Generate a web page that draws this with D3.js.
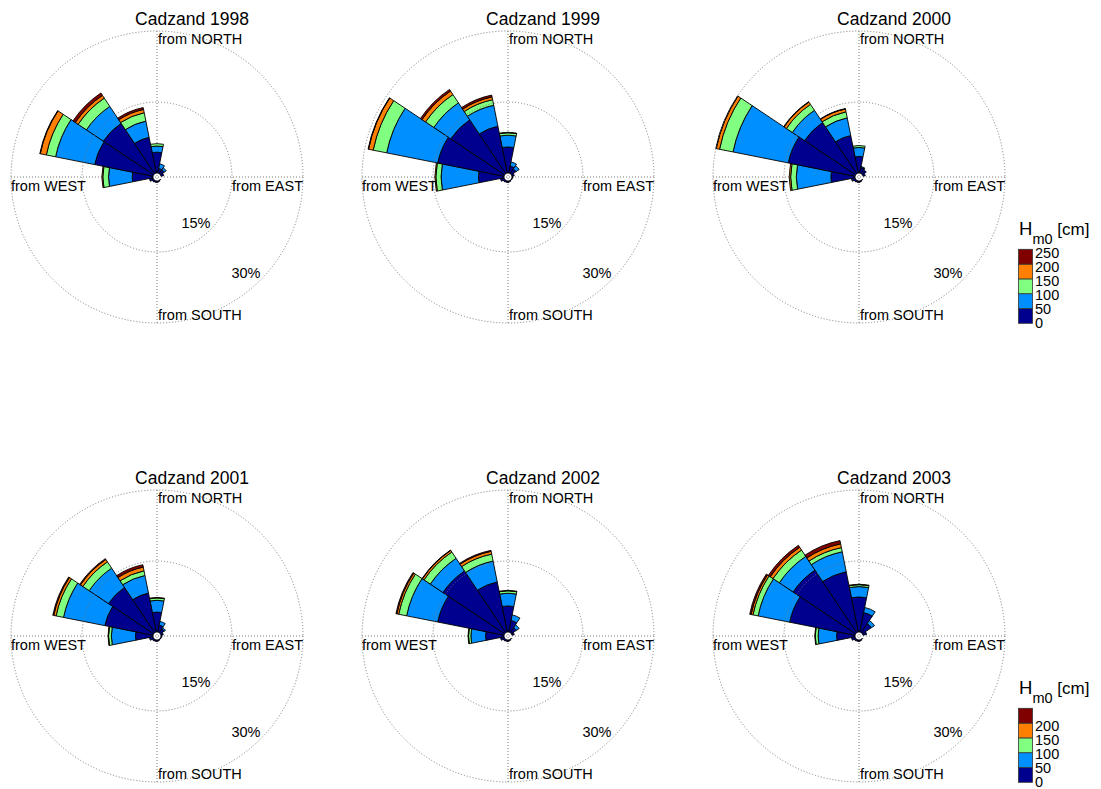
<!DOCTYPE html>
<html><head><meta charset="utf-8">
<script src="https://cdn.jsdelivr.net/npm/d3@7"></script>
<style>
body{margin:0;background:#fff}
svg{display:block}
text{font-family:"Liberation Sans",Arial,Helvetica,sans-serif;fill:#000}
</style>
</head><body>
<svg id="chart" width="1101" height="789"></svg>
<script>
// ---------- data ----------
const directions = ["N","NNE","NE","ENE","E","ESE","SE","SSE","S","SSW","SW","WSW","W","WNW","NW","NNW"];
const bearings   = [0,22.5,45,67.5,90,112.5,135,157.5,180,202.5,225,247.5,270,292.5,315,337.5];
const binLabels  = ["0-50","50-100","100-150","150-200","200-250"];
const binColors  = ["#00008f","#008fff","#80ff80","#ff8000","#800000"];
const years      = ["1998","1999","2000","2001","2002","2003"];
const ringTicks  = [15, 30];
const legendTicksTop    = [0,50,100,150,200,250];
const legendTicksBottom = [0,50,100,150,200];

// frequency [%] per direction (rows follow `directions`), per Hm0 bin (columns follow `binLabels`)
const freq1998 = [
  [4.4,1.3,0.5,0,0],[1.0,1.0,0,0,0],[1.0,0.5,0,0,0],[0.6,0,0,0,0],[0,0,0,0,0],[0,0,0,0,0],
  [0.1,0,0,0,0],[0.2,0,0,0,0],[0.3,0,0,0,0],[0.3,0,0,0,0],[0.4,0,0,0,0],[0.8,0,0,0,0],
  [4.4,5.0,1.2,0.2,0],[12.6,8.4,2.0,1.3,0.1],[12.8,4.3,2.1,0.7,0.6],[7.7,3.5,1.8,0.7,0.4]];
const freq1999 = [
  [5.5,2.5,0.5,0.1,0],[1.5,0.9,0,0,0],[1.2,0.8,0,0,0],[0.5,0,0,0,0],[0.2,0,0,0,0],[0.1,0,0,0,0],
  [0.1,0,0,0,0],[0.2,0,0,0,0],[0.3,0,0,0,0],[0.3,0,0,0,0],[0.4,0,0,0,0],[0.8,0,0,0,0],
  [5.4,7.9,1.1,0.2,0],[14.3,11.0,2.9,1.0,0.1],[13.7,4.3,2.1,0.9,0.4],[10.1,4.5,1.2,0.6,0.4]];
const freq2000 = [
  [3.5,1.9,0.4,0,0],[1.2,0.2,0,0,0],[1.0,0,0,0,0],[0.5,0,0,0,0],[0,0,0,0,0],[0,0,0,0,0],
  [0.1,0,0,0,0],[0.2,0,0,0,0],[0.3,0,0,0,0],[0.3,0,0,0,0],[0.4,0,0,0,0],[0.8,0,0,0,0],
  [5.1,7.3,1.2,0.3,0],[14.4,11.9,2.9,0.7,0.1],[13.0,3.1,1.5,0.6,0.1],[8.1,3.8,1.3,0.6,0.1]];
const freq2001 = [
  [4.2,2.5,0.5,0.1,0],[1.5,0.8,0,0,0],[1.0,0.3,0,0,0],[0.5,0,0,0,0],[0.2,0,0,0,0],[0.1,0,0,0,0],
  [0.1,0,0,0,0],[0.2,0,0,0,0],[0.3,0,0,0,0],[0.3,0,0,0,0],[0.4,0,0,0,0],[0.8,0,0,0,0],
  [3.7,5.1,0.6,0.1,0],[10.4,8.9,1.6,0.5,0.2],[11.5,4.9,1.6,0.6,0.2],[8.4,3.8,1.0,0.8,0.5]];
const freq2002 = [
  [5.5,2.7,0.5,0.1,0],[2.5,1.2,0,0,0],[1.3,0.7,0,0,0],[0.5,0,0,0,0],[0,0,0,0,0],[0,0,0,0,0],
  [0.1,0,0,0,0],[0.2,0,0,0,0],[0.3,0,0,0,0],[0.3,0,0,0,0],[0.4,0,0,0,0],[0.8,0,0,0,0],
  [3.9,3.1,0.5,0.1,0],[14.3,6.7,1.7,0.4,0.2],[15.7,3.2,1.6,0.4,0.1],[10.8,4.5,1.5,0.6,0.2]];
const freq2003 = [
  [7.4,2.2,0.4,0.1,0],[4.2,1.1,0,0,0],[2.3,0.8,0,0,0],[0.8,0,0,0,0],[0,0,0,0,0],[0,0,0,0,0],
  [0.1,0,0,0,0],[0.2,0,0,0,0],[0.3,0,0,0,0],[0.3,0,0,0,0],[0.4,0,0,0,0],[0.8,0,0,0,0],
  [3.9,3.9,0.6,0.1,0],[14.1,6.8,1.1,0.4,0.3],[15.9,3.5,1.6,0.7,0.5],[13.0,4.3,0.9,0.8,0.7]];
const freqByYear = [freq1998,freq1999,freq2000,freq2001,freq2002,freq2003];

// ---------- layout ----------
const svg = d3.select("#chart");
const colX = [157, 508, 859];
const rowY = [177, 636];
const r = d3.scaleLinear().domain([0, 30]).range([4, 146]);
const halfWidth = 11.25 * Math.PI / 180;
const arc = d3.arc();
const toRad = d => d * Math.PI / 180;

years.forEach((yr, i) => {
  const cx = colX[i % 3], cy = rowY[Math.floor(i / 3)];
  const g = svg.append("g").attr("transform", `translate(${cx},${cy})`);
  const R = r(30);

  // axis cross lines (below bars)
  const axes = g.append("g").attr("stroke", "#7a7a7a").attr("stroke-width", 1)
    .attr("stroke-dasharray", "1,2").attr("fill", "none");
  axes.append("line").attr("x1", -R).attr("x2", R).attr("y1", 0).attr("y2", 0);
  axes.append("line").attr("x1", 0).attr("x2", 0).attr("y1", -R).attr("y2", R);

  // bars
  const freq = freqByYear[i];
  const segs = [];
  freq.forEach((vals, di) => {
    let cum = 0;
    vals.forEach((v, bi) => {
      if (v > 0) {
        segs.push({dir: directions[di], bearing: bearings[di], bin: bi, lo: cum, hi: cum + v});
      }
      cum += v;
    });
  });
  g.append("g").selectAll("path").data(segs).join("path")
    .attr("d", d => arc({
      innerRadius: r(d.lo), outerRadius: r(d.hi),
      startAngle: toRad(d.bearing) - halfWidth, endAngle: toRad(d.bearing) + halfWidth }))
    .attr("fill", d => binColors[d.bin])
    .attr("stroke", "#000").attr("stroke-width", 0.9).attr("stroke-linejoin", "round");

  // rings (above bars)
  g.append("g").selectAll("circle").data(ringTicks).join("circle")
    .attr("r", d => r(d)).attr("fill", "none").attr("stroke", "#7a7a7a")
    .attr("stroke-width", 1).attr("stroke-dasharray", "1,2");

  // ring labels
  g.append("text").attr("x", 39).attr("y", 51).attr("text-anchor", "middle")
    .attr("font-size", 14.5).text(ringTicks[0] + "%");
  g.append("text").attr("x", 89).attr("y", 101).attr("text-anchor", "middle")
    .attr("font-size", 14.5).text(ringTicks[1] + "%");

  // direction labels
  g.append("text").attr("x", 1).attr("y", -133).attr("font-size", 14.5).text("from NORTH");
  g.append("text").attr("x", 1).attr("y", 143).attr("font-size", 14.5).text("from SOUTH");
  g.append("text").attr("x", -R).attr("y", 14).attr("font-size", 14.5).text("from WEST");
  g.append("text").attr("x", R).attr("y", 14).attr("text-anchor", "end").attr("font-size", 14.5).text("from EAST");

  // title
  g.append("text").attr("x", 35).attr("y", -152).attr("text-anchor", "middle")
    .attr("font-size", 17.5).text("Cadzand " + yr);
});

// ---------- legends ----------
function legend(offsetY, ticks) {
  const lg = svg.append("g").attr("transform", `translate(0,${offsetY})`);
  const yb = d3.scaleLinear().domain([0, 250]).range([323.3, 249.3]);
  const yl = d3.scaleLinear().domain([0, 250]).range([323.5, 253]);
  const t = lg.append("text").attr("x", 1019).attr("y", 235);
  t.append("tspan").attr("font-size", 18.5).text("H");
  t.append("tspan").attr("font-size", 14.5).attr("dy", 9).text("m0");
  t.append("tspan").attr("font-size", 17).attr("dy", -9).text(" [cm]");
  lg.selectAll("rect").data(binColors).join("rect")
    .attr("x", 1018.5).attr("width", 14)
    .attr("y", (c, k) => yb((k + 1) * 50)).attr("height", (c, k) => yb(k * 50) - yb((k + 1) * 50))
    .attr("fill", c => c).attr("stroke", "#333").attr("stroke-width", 0.8);
  lg.selectAll("text.tick").data(ticks).join("text").attr("class", "tick")
    .attr("x", 1035).attr("y", d => yl(d)).attr("dy", "0.34em")
    .attr("font-size", 14.5).text(d => d);
}
legend(0, legendTicksTop);
legend(459, legendTicksBottom);
</script>
</body></html>
